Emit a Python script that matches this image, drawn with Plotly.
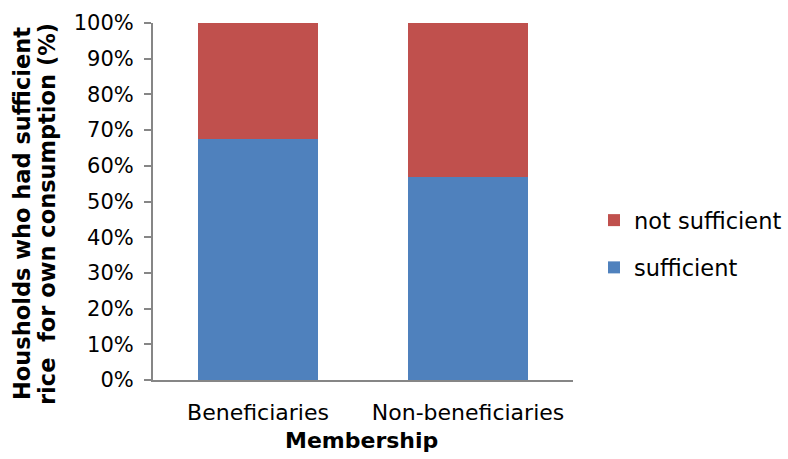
import plotly.graph_objects as go

categories = ["Beneficiaries", "Non-beneficiaries"]
sufficient = [67.4, 56.8]
not_sufficient = [32.6, 43.2]
tick_vals = [0, 10, 20, 30, 40, 50, 60, 70, 80, 90, 100]
tick_text = [f"{v}%" for v in tick_vals]

FONT = "DejaVu Sans"
W, H = 788, 459
L, R, T, B = 153, 215, 23, 79
PW, PH = W - L - R, H - T - B

fig = go.Figure()
fig.add_trace(go.Bar(x=categories, y=sufficient, name="sufficient",
                     marker=dict(color="#4F81BD", line=dict(width=0)),
                     legendgroup="a", legendrank=2))
fig.add_trace(go.Bar(x=categories, y=not_sufficient, name="not sufficient",
                     marker=dict(color="#C0504D", line=dict(width=0)),
                     legendgroup="b", legendrank=1))

fig.update_layout(
    width=W, height=H,
    margin=dict(l=L, r=R, t=T, b=B),
    barmode="stack",
    bargap=0.4286,
    plot_bgcolor="white", paper_bgcolor="white",
    font=dict(family=FONT, size=22, color="black"),
    showlegend=True,
    legend=dict(xref="container", yref="container",
                x=594 / W, y=1 - 244 / H, xanchor="left", yanchor="middle",
                traceorder="grouped", tracegroupgap=15,
                font=dict(size=22.5), itemwidth=30),
    xaxis=dict(showline=True, linecolor="#868686", linewidth=2,
               ticks="", showgrid=False, tickfont=dict(size=22),
               ticklabelstandoff=12),
    yaxis=dict(range=[0, 100], tickvals=tick_vals, ticktext=tick_text,
               showline=True, linecolor="#868686", linewidth=2,
               ticks="outside", ticklen=7, tickcolor="#868686", tickwidth=2,
               showgrid=False, tickfont=dict(size=21), ticklabelstandoff=6),
)

title_lines = ["Housholds who had sufficient", "rice  for own consumption (%)"]
title_x = [22, 47]
for txt, px in zip(title_lines, title_x):
    fig.add_annotation(text=f"<b>{txt}</b>", textangle=-90,
                       x=(px - L) / PW, y=(H - B - 214) / PH,
                       xref="paper", yref="paper", showarrow=False,
                       xanchor="center", yanchor="middle",
                       font=dict(size=22.5, family=FONT))

fig.add_annotation(text="<b>Membership</b>", x=(361 - L) / PW, y=(H - B - 440) / PH,
                   xref="paper", yref="paper", showarrow=False,
                   xanchor="center", yanchor="middle",
                   font=dict(size=22, family=FONT))

fig.write_html("out.html")
